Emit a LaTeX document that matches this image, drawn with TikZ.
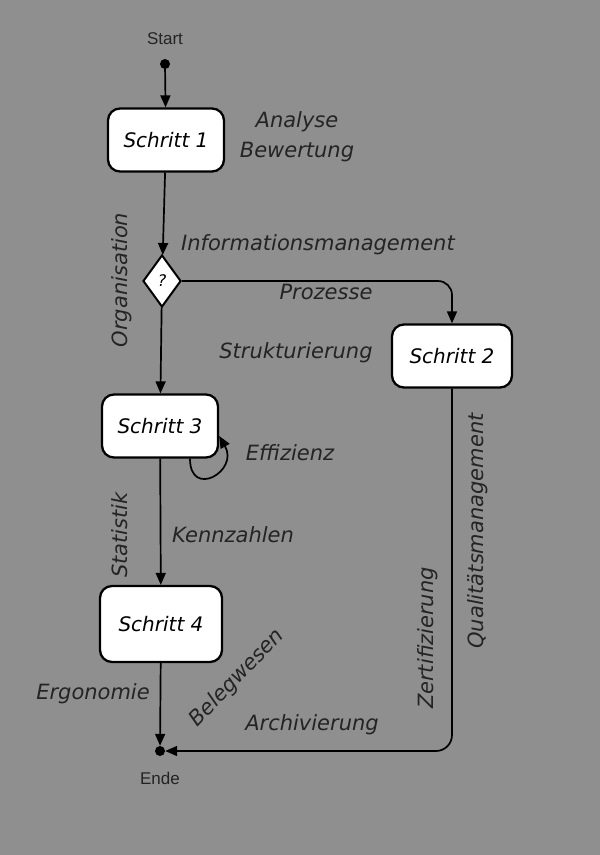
\documentclass[tikz,border=0pt]{standalone}
\usepackage{fontspec}
\setmainfont{DejaVu Sans}
\newfontfamily\plainfont{Liberation Sans}
\usepackage{tikz}
\usetikzlibrary{arrows.meta,shapes.geometric}
\definecolor{bggray}{RGB}{143,143,143}
\definecolor{ink}{RGB}{36,36,36}

\begin{document}
\begin{tikzpicture}[
    x=1pt, y=1pt,
    schritt/.style={draw=black, fill=white, line width=2.3pt, rounded corners=12pt, minimum width=116pt, minimum height=63pt,
        font=\itshape\fontsize{20}{24}\selectfont},
    raute/.style={diamond, draw=black, fill=white, line width=2pt, inner sep=0pt, minimum width=38pt, minimum height=52pt,
        font=\itshape\fontsize{16}{18}\selectfont},
    lbl/.style={font=\itshape\fontsize{21}{24}\selectfont, text=ink},
    tag/.style={font=\plainfont\fontsize{17}{20}\selectfont, text=ink},
    term/.style={circle, fill=black, inner sep=0pt, minimum size=10pt},
    arr/.style={-{Triangle[length=12pt, width=10pt]}, line width=1.7pt}
]
\useasboundingbox[fill=bggray] (0,0) rectangle (600,-855);

\node[tag] (start) at (165,-39) {Start};
\node[term] (anf) at (165,-64) {};
\node[schritt] (s1) at (166,-140) {Schritt 1};
\node[lbl] (analyse) at (297,-122) {Analyse};
\node[lbl] (bewert) at (297,-152) {Bewertung};

\node[raute] (q) at (162,-281) {?};
\node[lbl] (info) at (318,-245) {Informationsmanagement};
\node[lbl] (proz) at (326,-292) {Prozesse};
\node[lbl, rotate=90] (orga) at (122,-280) {Organisation};

\node[schritt, minimum width=120pt] (s2) at (452,-356) {Schritt 2};
\node[lbl] (strukt) at (296,-353) {Strukturierung};

\node[schritt] (s3) at (160,-426) {Schritt 3};
\node[lbl] (effiz) at (290,-453) {Effizienz};
\node[lbl] (kennz) at (233,-535) {Kennzahlen};
\node[lbl, rotate=90] (stat) at (120,-535) {Statistik};

\node[schritt, minimum width=122pt, minimum height=76pt] (s4) at (161,-624) {Schritt 4};
\node[term] (ende) at (160,-751) {};
\node[tag] (endtxt) at (160,-778) {Ende};
\node[lbl] (ergo) at (93,-694) {Ergonomie};
\node[lbl, rotate=46] (beleg) at (237,-678) {Belegwesen};
\node[lbl] (archiv) at (312,-725) {Archivierung};
\node[lbl, rotate=90] (zert) at (428,-638) {Zertifizierung};
\node[lbl, rotate=90] (qual) at (478,-531) {Qualitätsmanagement};

\draw[arr] (anf) -- (s1);
\draw[arr] (s1) -- (q);
\draw[arr, rounded corners=14pt] (q.east) -| (s2.north);
\draw[arr] (q) -- (s3);
\draw[arr] ([xshift=30pt]s3.south) to[out=-90, in=-60, looseness=2.8] ([yshift=-10pt]s3.east);
\draw[arr] (s3) -- (s4);
\draw[arr] (s4) -- (ende);
\draw[arr, rounded corners=16pt] (s2.south) |- (ende.east);
\end{tikzpicture}
\end{document}
